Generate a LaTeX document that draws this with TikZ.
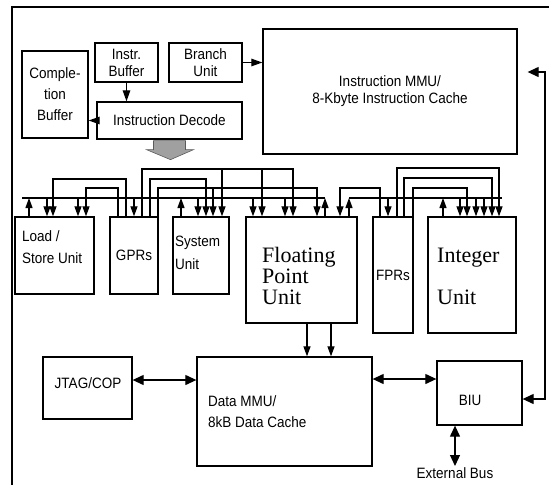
\documentclass[tikz,border=0pt]{standalone}
\usepackage{fontspec}
\setmainfont{Liberation Sans}[FakeStretch=0.9]
\newfontfamily\timesfont{Liberation Serif}
\usetikzlibrary{arrows.meta}

\begin{document}
\begin{tikzpicture}[x=1pt,y=-1pt,
  blk/.style={draw,line width=1.3pt,inner sep=0pt},
  txt/.style={font=\fontsize{15}{17}\selectfont,align=center,inner sep=0pt},
  big/.style={font=\timesfont\fontsize{22}{21}\selectfont,align=left,inner sep=0pt},
  wire/.style={line width=1.2pt},
  tap/.style={line width=1.2pt,-{Triangle[length=10pt,width=7pt]}},
  arr/.style={line width=1.2pt,-{Triangle[length=11pt,width=7.5pt]}},
  darr/.style={line width=1.2pt,{Triangle[length=11pt,width=10pt]}-{Triangle[length=11pt,width=10pt]}}]
\useasboundingbox (0,0) rectangle (549,485);
% outer frame
\draw[line width=1.4pt] (12,485) -- (12,7) -- (549,7);

% fetch / decode
\node[blk,txt,minimum width=66,minimum height=87,font=\fontsize{15}{21}\selectfont] (cbuf) at (55,94.5) {Comple-\\tion\\Buffer};
\node[blk,txt,minimum width=63,minimum height=39] (ibuf) at (126.5,62.5) {Instr.\\Buffer};
\node[blk,txt,minimum width=73,minimum height=39] (bru) at (205.5,62.5) {Branch\\Unit};
\node[blk,txt,minimum width=145,minimum height=37] (idec) at (169.5,120.5) {Instruction Decode};
\node[blk,txt,minimum width=254,minimum height=125] (immu) at (390,91.5) {Instruction MMU/\\8-Kbyte Instruction Cache};

\draw[arr] (ibuf) -- (ibuf |- idec.north);
\draw[arr] (idec) -- (idec -| cbuf.east);
\draw[arr] (bru) -- (bru -| immu.west);
\filldraw[fill={rgb,255:red,160;green,160;blue,160},draw={rgb,255:red,90;green,90;blue,90},line width=0.6pt]
  (idec.south) ++(-16,1) -- ++(32,0) -- ++(0,9) -- ++(8,0) -- ++(-23,10) -- ++(-24,-10) -- ++(7,0) -- cycle;

% execution units
\node[blk,minimum width=79,minimum height=77] (lsu) at (54.5,255.5) {};
\node[txt,align=left,anchor=west,font=\fontsize{15}{22}\selectfont] at (22,247) {Load /\\Store Unit};
\node[blk,txt,minimum width=48,minimum height=77] (gprs) at (134,255.5) {GPRs};
\node[blk,minimum width=56,minimum height=77] (sysu) at (201,255.5) {};
\node[txt,align=left,anchor=west,font=\fontsize{15}{23}\selectfont] at (175,253) {System\\Unit};
\node[blk,minimum width=111,minimum height=106] (fpu) at (301.5,270) {};
\node[big,anchor=west] at (262,276) {Floating\\Point\\Unit};
\node[blk,txt,minimum width=40,minimum height=116] (fprs) at (393,275) {FPRs};
\node[blk,minimum width=88,minimum height=116] (intu) at (472,275) {};
\node[big,anchor=west] at (437,276) {Integer\\[21pt]Unit};

% result buses
\coordinate (busA) at (22,198);
\coordinate (busB) at (325,198);
\coordinate (busC) at (349,198);
\coordinate (busD) at (502,198);
\draw[wire] (busA) -- (busB);
\draw[wire] (busC) -- (busD);
\foreach \x/\u in {47/lsu,78/lsu,134/gprs,198/sysu,253/fpu,285/fpu,388/fprs,460/intu,476/intu,484/intu}
{ \coordinate (t) at (\x,198); \draw[tap] (t) -- (t |- \u.north); }
\foreach \x/\u in {29/lsu,181/sysu,325/fpu,349/fpu,443/intu}
{ \coordinate (t) at (\x,198); \draw[tap] (t |- \u.north) -- (t); }

% register file operands
\foreach \x/\lvl/\tx/\from/\to in {126/179/53/gprs/lsu,118/188/86/gprs/lsu,142/169/293/gprs/fpu,
  150/179/206/gprs/sysu,158/188/317/gprs/fpu,380/188/340/fprs/fpu,397/168/499/fprs/intu,
  404/178/492/fprs/intu,413/188/467/fprs/intu}
{ \coordinate (s) at (\x,\lvl); \coordinate (e) at (\tx,\lvl);
  \draw[tap] (s |- \from.north) -- (s) -- (e) -- (e |- \to.north); }
\foreach \x/\lvl/\u in {222/169/sysu,262/169/fpu,213/188/sysu}
{ \coordinate (t) at (\x,\lvl); \draw[tap] (t) -- (t |- \u.north); }

% memory side
\node[blk,minimum width=89,minimum height=62] (jtag) at (87.5,388) {};
\node[txt] at (88,383) {JTAG/COP};
\node[blk,minimum width=175,minimum height=109] (dmmu) at (284.5,411.5) {};
\node[txt,align=left,anchor=west,font=\fontsize{15}{21}\selectfont] at (208,412) {Data MMU/\\8kB Data Cache};
\node[blk,minimum width=85,minimum height=64] (biu) at (479.5,393) {};
\node[txt] at (470,400) {BIU};
\node[txt,anchor=north] (extbus) at (455,467) {External Bus};

\foreach \x in {307,331}
{ \coordinate (t) at (\x,0); \draw[tap] (t |- fpu.south) -- (t |- dmmu.north); }
\draw[darr] ([yshift=8]jtag.east) -- ([yshift=8]jtag.east -| dmmu.west);
\draw[darr] ([yshift=14]biu.west) -- ([yshift=14]biu.west -| dmmu.east);
\coordinate (rtop) at (545,72);
\coordinate (rbot) at (545,399);
\draw[darr,shorten <=10pt] (rtop -| immu.east) -- (rtop) -- (rbot) -- (rbot -| biu.east);
\draw[darr,shorten >=1pt] (biu.south -| extbus.north) -- (extbus.north);
\end{tikzpicture}
\end{document}
